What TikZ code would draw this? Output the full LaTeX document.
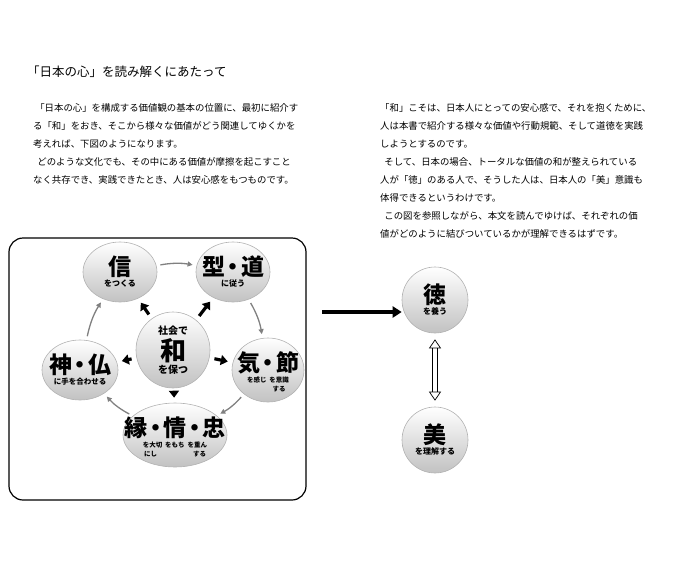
\documentclass[tikz,border=0pt]{standalone}
\usepackage{fontspec}
\setmainfont{Noto Sans CJK JP}
\usetikzlibrary{arrows.meta,shapes.geometric,calc}
\newcommand{\dt}{\kern-3.5pt・\kern-3.5pt}
\begin{document}
\begin{tikzpicture}[x=1pt,y=-1pt,
 bub/.style={ellipse,draw=gray!60,line width=0.6pt,top color=white,bottom color=black!24,inner sep=0pt},
 lab/.style={align=center,font=\bfseries,inner sep=0pt},
 gar/.style={draw=gray,line width=1.3pt,-{Triangle[width=5pt,length=5pt]},shorten <=4pt,shorten >=4pt},
 fat/.style={draw=black,line width=3.2pt,-{Triangle[width=10pt,length=7pt]},shorten <=5pt,shorten >=5pt},
 para/.style={anchor=north west,align=left,font=\fontsize{9.4}{18}\selectfont,inner sep=0pt}]
\useasboundingbox (0,0) rectangle (678,566);
\node[anchor=west,inner sep=0pt,font=\fontsize{12.5}{14}\selectfont] (title) at (27,72) {「日本の心」を読み解くにあたって};
\node[para] (p1) at (33,103) {\ 「日本の心」を構成する価値観の基本の位置に、最初に紹介す\\る「和」をおき、そこから様々な価値がどう関連してゆくかを\\考えれば、下図のようになります。\\\ \ どのような文化でも、その中にある価値が摩擦を起こすこと\\なく共存でき、実践できたとき、人は安心感をもつものです。};
\node[para] (p2) at (380,103) {「和」こそは、日本人にとっての安心感で、それを抱くために、\\人は本書で紹介する様々な価値や行動規範、そして道徳を実践\\しようとするのです。\\\ \ そして、日本の場合、トータルな価値の和が整えられている\\人が「徳」のある人で、そうした人は、日本人の「美」意識も\\体得できるというわけです。\\\ \ この図を参照しながら、本文を読んでゆけば、それぞれの価\\値がどのように結びついているかが理解できるはずです。};
\draw[line width=1.2pt,rounded corners=14pt] (9,238) rectangle (306,500);
\node[bub,minimum width=74pt,minimum height=60pt] (shin) at (120,272) {};
\node[bub,minimum width=74pt,minimum height=60pt] (kata) at (233,272) {};
\node[bub,minimum width=74pt,minimum height=76pt] (wa) at (173,350) {};
\node[bub,minimum width=76pt,minimum height=60pt] (kami) at (80,370) {};
\node[bub,minimum width=72pt,minimum height=64pt] (ki) at (268,370) {};
\node[bub,minimum width=104pt,minimum height=64pt] (en) at (175,435) {};
\node[lab] (tshin) at (shin) {{\fontsize{23}{24}\selectfont 信}\\[-1pt]{\fontsize{8}{9}\selectfont をつくる}};
\node[lab] (tkata) at (kata) {{\fontsize{23}{24}\selectfont 型\dt 道}\\[-1pt]{\fontsize{8}{9}\selectfont に従う}};
\node[lab] (twa) at (wa) {{\fontsize{10}{11}\selectfont 社会で}\\[2pt]{\fontsize{26}{27}\selectfont 和}\\[1pt]{\fontsize{10}{11}\selectfont を保つ}};
\node[lab] (tkami) at (kami) {{\fontsize{23}{24}\selectfont 神\dt 仏}\\[-1pt]{\fontsize{7.5}{9}\selectfont に手を合わせる}};
\node[lab] (tki) at ($(ki)+(0,2)$) {{\fontsize{23}{24}\selectfont 気\dt 節}\\[-1pt]{\fontsize{6.5}{7}\selectfont を感じ\ \ を意識}\\[-3pt]{\fontsize{6.5}{7}\selectfont \hspace{22pt}する}};
\node[lab] (ten) at ($(en)+(0,2)$) {{\fontsize{23}{24}\selectfont 縁\dt 情\dt 忠}\\[-1pt]{\fontsize{6.5}{7}\selectfont を大切\ \ をもち\ \ を重ん}\\[-3pt]{\fontsize{6.5}{7}\selectfont にし\hspace{36pt}する}};
\draw[gar] (shin) to[bend left=10] (kata);
\draw[gar] (kata) to[bend left=10] (ki);
\draw[gar] (ki) to[bend left=10] (en);
\draw[gar] (en) to[bend left=10] (kami);
\draw[gar] (kami) to[bend left=10] (shin);
\foreach \t in {shin,kata,kami,ki,en} \draw[fat] (wa) -- (\t);
\node[bub,minimum width=66pt,minimum height=66pt] (toku) at (435,300) {};
\node[bub,minimum width=66pt,minimum height=66pt] (bi) at (435,440) {};
\node[lab] (ttoku) at (toku) {{\fontsize{23}{24}\selectfont 徳}\\[-1pt]{\fontsize{8}{9}\selectfont を養う}};
\node[lab] (tbi) at (bi) {{\fontsize{23}{24}\selectfont 美}\\[-1pt]{\fontsize{8}{9}\selectfont を理解する}};
\coordinate (bs) at (322,312);
\draw[line width=3.5pt,-{Triangle[width=11pt,length=9pt]}] (bs) -- (toku.west|-bs);
\draw[double=white,double distance=4pt,line width=0.7pt,{Triangle[open,width=12pt,length=9pt]}-{Triangle[open,width=12pt,length=9pt]},shorten <=6pt,shorten >=6pt] (toku) -- (bi);
\end{tikzpicture}
\end{document}
